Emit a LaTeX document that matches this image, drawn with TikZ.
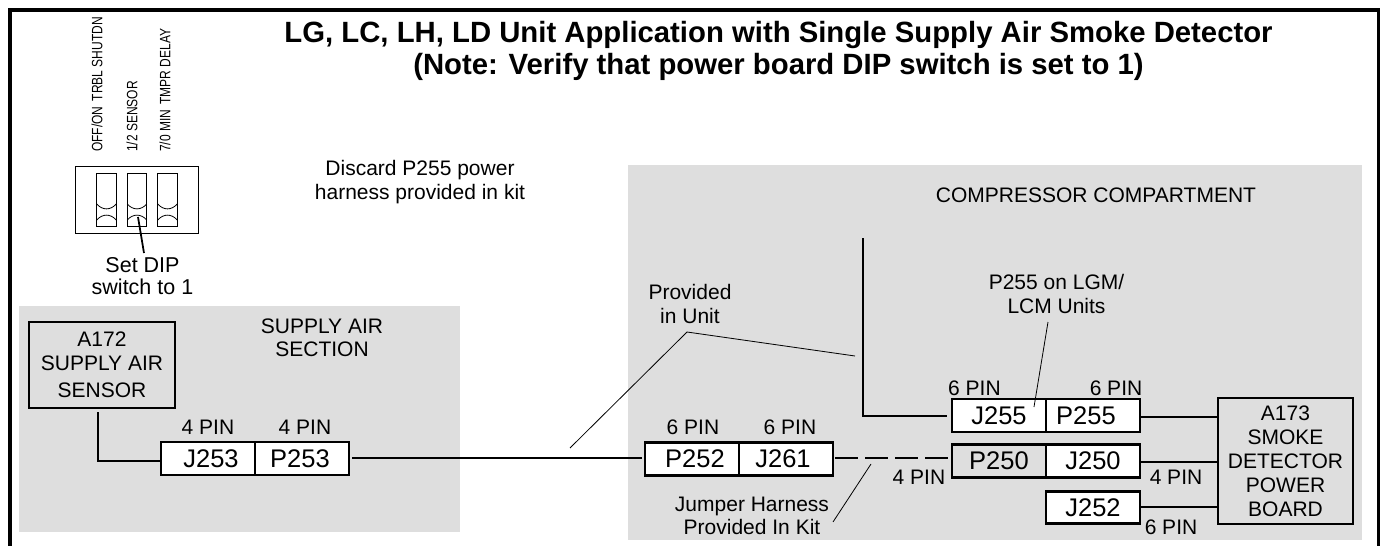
\documentclass[tikz,border=0pt]{standalone}
\usepackage{fontspec}
\setmainfont{Liberation Sans}
\tikzset{
  area/.style={fill=black!13,draw=none},
  conn/.style={draw=black,line width=2.2pt,fill=white,font=\fontsize{25.5}{26}\selectfont,minimum height=33pt,inner sep=0pt,outer sep=0pt},
  wire/.style={line width=2.2pt},
  lbl/.style={font=\fontsize{21}{23.5}\selectfont,align=center,inner sep=0pt},
  box/.style={draw=black,line width=2.2pt,font=\fontsize{21}{24}\selectfont,align=center,inner sep=0pt},
  thinline/.style={line width=0.8pt},
  dipline/.style={line width=.8pt},
  vert/.style={rotate=90,anchor=west,font=\fontsize{15}{15}\selectfont,inner sep=0pt,xscale=.8},
}
\begin{document}
\begin{tikzpicture}[x=1pt,y=-1pt]
\useasboundingbox (0,0) rectangle (1382,546);
\fill[white] (0,0) rectangle (1382,546);
\draw[line width=3.5pt] (10,546) -- (10,10) -- (1378.5,10) -- (1378.5,546);
\fill[area] (19,306) rectangle (460,532);
\fill[area] (628,165) rectangle (1362,540);
\node[font=\fontsize{29.3}{32}\selectfont\bfseries,align=center,inner sep=0pt] (title) at (778.5,51) {LG, LC, LH, LD Unit Application with Single Supply Air Smoke Detector\\(Note: Verify that power board DIP switch is set to 1)};
\node[lbl] (discard) at (420,182) {Discard P255 power\\harness provided in kit};
\node[lbl] (comp) at (1096,195) {COMPRESSOR COMPARTMENT};
\node[lbl] (supply) at (322,338) {SUPPLY AIR\\SECTION};
\node[lbl] (prov) at (690,304) {Provided\\in Unit};
\node[lbl] (p255n) at (1056.5,294) {P255 on LGM/\\LCM Units};
\node[lbl] (jump) at (752,516) {Jumper Harness\\Provided In Kit};
% DIP
\node[draw,dipline,minimum width=123pt,minimum height=67pt,inner sep=0pt] (dip) at (136.5,199.5) {};
\foreach \n/\x in {a/106.5,b/137,c/167.5}{
  \node[draw,dipline,minimum width=19.5pt,minimum height=53pt,inner sep=0pt] (sw\n) at (\x,199.5) {};
  \draw[dipline] (\x-9.75,204) .. controls (\x-4,210.5) and (\x+4,210.5) .. (\x+9.75,204);
  \draw[dipline] (\x-9.75,220) .. controls (\x-4,213.5) and (\x+4,213.5) .. (\x+9.75,220);
}
\node[vert] (v1) at (97,152) {OFF/ON\, TRBL SHUTDN};
\node[vert] (v2) at (132,152) {1/2 SENSOR};
\node[vert] (v3) at (165,152) {7/0 MIN\, TMPR DELAY};
\node[lbl,font=\fontsize{21.5}{22}\selectfont] (set) at (142.5,276) {Set DIP\\switch to 1};
\coordinate (setp) at (144,253);
\coordinate (setq) at (138,217);
\draw[line width=1.8pt] (setq) -- (setp);
% boxes
\node[box,minimum width=146pt,minimum height=86pt] (a172) at (102,365) {A172\\SUPPLY AIR\\[3.5pt]SENSOR};
\node[box,minimum width=135pt,minimum height=126pt] (a173) at (1285.5,461) {A173\\SMOKE\\DETECTOR\\POWER\\BOARD};
\node[conn,minimum width=94pt] (j253) at (208,458.5) {\hspace*{6pt}J253};
\node[conn,minimum width=94pt] (p253) at (302,458.5) {P253\hspace*{4pt}};
\node[conn,line width=2.8pt,minimum width=94pt] (p252) at (692,459) {\hspace*{6pt}P252};
\node[conn,line width=2.8pt,minimum width=94pt] (j261) at (786,459) {J261\hspace*{6pt}};
\node[conn,minimum width=94pt] (j255) at (999,415.5) {J255};
\node[conn,minimum width=94pt] (p255) at (1093,415.5) {P255\hspace*{14pt}};
\node[conn,minimum width=94pt,fill=black!13] (p250) at (999,461) {P250};
\node[conn,minimum width=94pt] (j250) at (1093,461) {J250};
\node[conn,minimum width=94pt,minimum height=32pt] (j252) at (1093,507.5) {J252};
% pin labels
\node[lbl] (pa) at (208,427) {4 PIN};
\node[lbl] (pb) at (305,427) {4 PIN};
\node[lbl] (pc) at (693,427) {6 PIN};
\node[lbl] (pd) at (790,427) {6 PIN};
\node[lbl] (pe) at (974.5,388) {6 PIN};
\node[lbl] (pf) at (1116,388) {6 PIN};
\node[lbl] (pg) at (919,477) {4 PIN};
\node[lbl] (ph) at (1176,477) {4 PIN};
\node[lbl] (pi) at (1171,527) {6 PIN};
% wires
\coordinate (a1) at (98,412);
\coordinate (a2) at (98,461);
\draw[wire] (a1) -- (a2) -- (a2 -| j253.west);
\coordinate (b1) at (349,458);
\draw[wire,shorten <=3pt,shorten >=3pt] (p253.east |- b1) -- (p252.west |- b1);
\coordinate (d1) at (833,458);
\draw[wire,dash pattern=on 23pt off 7pt,shorten <=2pt,shorten >=4pt] (j261.east |- d1) -- (p250.west |- d1);
\coordinate (w1) at (863,238);
\coordinate (w2) at (863,416);
\draw[wire,shorten >=5pt] (w1) -- (w2) -- (w2 -| j255.west);
\coordinate (e3) at (1140,417);
\coordinate (e2) at (1140,462);
\coordinate (e1) at (1140,507);
\draw[wire,shorten <=1pt] (e3) -- (e3 -| a173.west);
\draw[wire,shorten <=1pt] (e2) -- (e2 -| a173.west);
\draw[wire,shorten <=1pt] (e1) -- (e1 -| a173.west);
% leaders
\coordinate (l1) at (570,448); \coordinate (l2) at (687,332); \coordinate (l3) at (855,356);
\draw[thinline] (l1) -- (l2) -- (l3);
\coordinate (l4) at (1034,407); \coordinate (l5) at (1048,322);
\draw[thinline] (l4) -- (l5);
\coordinate (l6) at (871,464); \coordinate (l7) at (833,522);
\draw[thinline] (l6) -- (l7);
\end{tikzpicture}
\end{document}
